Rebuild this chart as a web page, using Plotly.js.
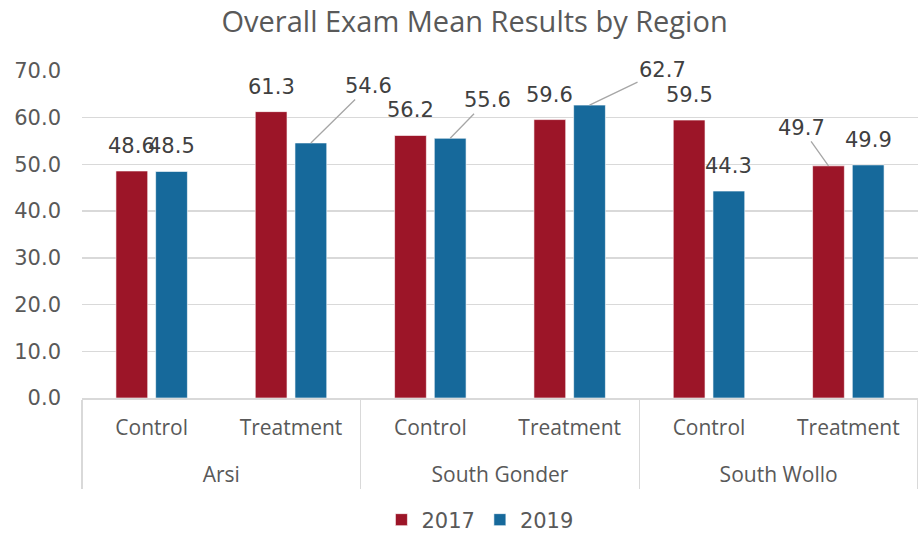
<!DOCTYPE html>
<html><head><meta charset="utf-8">
<script src="https://cdn.plot.ly/plotly-3.0.1.min.js"></script>
<style>html,body{margin:0;padding:0;background:#fff}</style>
</head><body><div id="chart" style="width:918px;height:534px"></div>
<script>
const regions = ["Arsi","Arsi","South Gonder","South Gonder","South Wollo","South Wollo"];
const groups = ["Control","Treatment","Control","Treatment","Control","Treatment"];
const series2017 = [48.6, 61.3, 56.2, 59.6, 59.5, 49.7];
const series2019 = [48.5, 54.6, 55.6, 62.7, 44.3, 49.9];
const seriesNames = ["2017", "2019"];
const yTicks = [0, 10, 20, 30, 40, 50, 60, 70];

const colors = ["#9C1528", "#16699B"];
const font = "Open Sans, Liberation Sans, Arial, sans-serif";
const numFont = "DejaVu Sans, Verdana, sans-serif";
const bargap = 0.43, bargroupgap = 0.2;
// label leader-line offsets (pixels) for labels that were moved: key "series-category"
const moved = {"1-1": [58, -57], "1-2": [37, -38], "1-3": [73, -35], "0-5": [-27, -38]};

const allSeries = [series2017, series2019];
// extra blank line under the inner labels to leave room before the region labels
const groupLabels = groups.map(g => g + "<br>&nbsp;");
const traces = allSeries.map((vals, s) => ({
  type: "bar",
  name: seriesNames[s],
  x: [regions, groupLabels],
  y: vals,
  marker: {color: colors[s], line: {color: "rgba(255,255,255,0.6)", width: 1}},
  hoverinfo: "none"
}));

const slot = (1 - bargap) / allSeries.length;
const annotations = [];
allSeries.forEach((vals, s) => {
  const off = -((1 - bargap) / 2) + slot * (s + 0.5);
  vals.forEach((v, i) => {
    const key = s + "-" + i;
    const a = {
      x: i + off, y: v, xref: "x", yref: "y",
      text: v.toFixed(1),
      font: {family: numFont, size: 21, color: "#404040"}
    };
    if (moved[key]) {
      Object.assign(a, {showarrow: true, arrowhead: 0, arrowwidth: 1.3, arrowcolor: "#A6A6A6",
        ax: moved[key][0], ay: moved[key][1], standoff: 0});
    } else {
      Object.assign(a, {showarrow: false, yshift: 25});
    }
    annotations.push(a);
  });
});

const layout = {
  width: 918, height: 534,
  margin: {l: 82, r: 0, t: 71, b: 136},
  paper_bgcolor: "#fff", plot_bgcolor: "#fff",
  font: {family: font, color: "#595959", size: 21},
  title: {text: "Overall Exam Mean Results by Region", x: 0.517, xanchor: "center",
    y: 1 - 22 / 534, yanchor: "middle", font: {family: font, size: 29, color: "#595959"}},
  barmode: "group", bargap: bargap, bargroupgap: bargroupgap,
  xaxis: {type: "multicategory", range: [-0.5, 5.5], showdividers: true,
    dividercolor: "#D9D9D9", dividerwidth: 1.5, showline: true, linecolor: "#D9D9D9",
    linewidth: 1.5, ticks: "", ticklabelstandoff: 10,
    tickfont: {family: font, size: 21, color: "#595959"}},
  yaxis: {range: [0, 70], tickvals: yTicks, tickformat: ".1f", showgrid: true,
    gridcolor: "#D9D9D9", gridwidth: 1.3, zeroline: false, showline: false,
    ticklabelstandoff: 20, tickfont: {family: numFont, size: 21, color: "#595959"}},
  legend: {orientation: "h", x: 0.476, xanchor: "center", yref: "container",
    y: 1 - 520 / 534, yanchor: "middle", font: {family: numFont, size: 21, color: "#595959"}},
  annotations: annotations,
  showlegend: true
};

Plotly.newPlot("chart", traces, layout, {displayModeBar: false, staticPlot: true});
</script>
</body></html>
